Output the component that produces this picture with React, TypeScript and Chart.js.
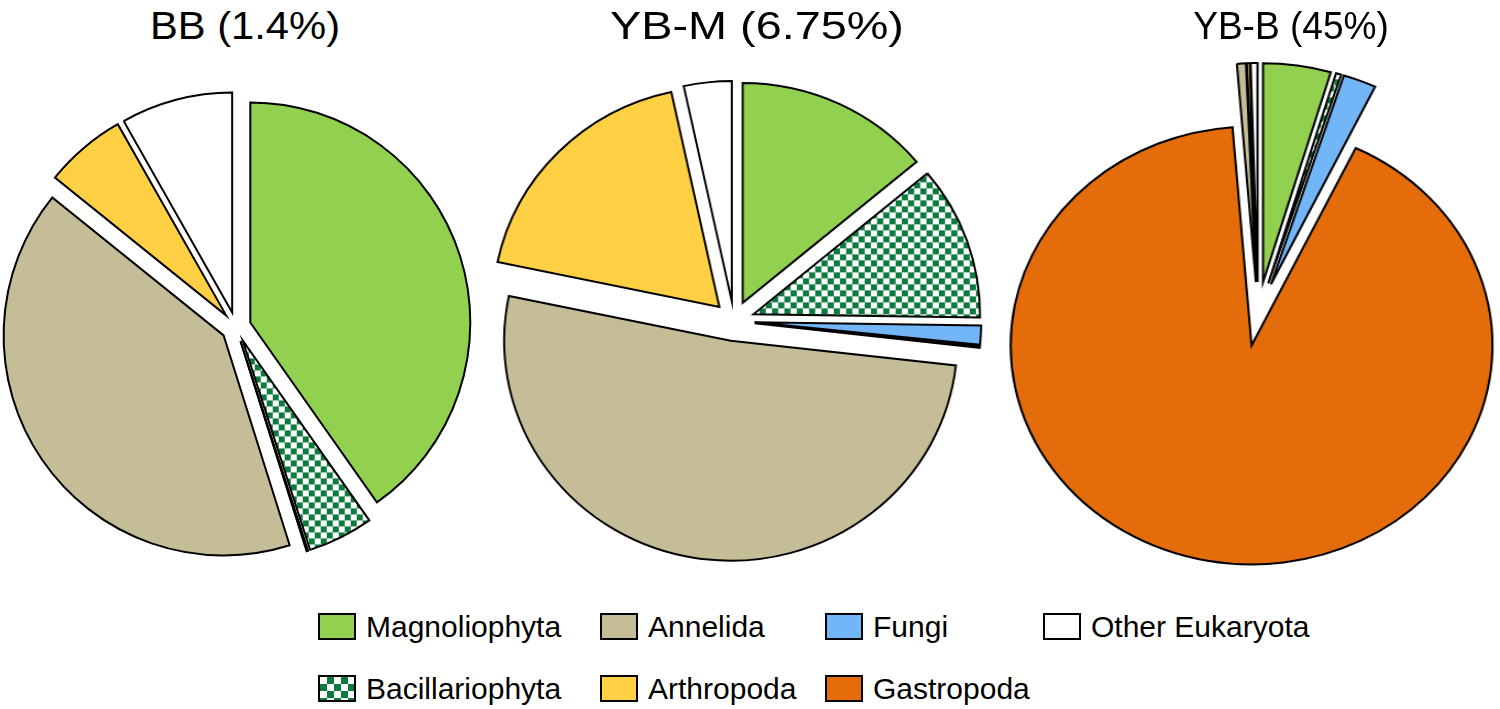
import React, { useEffect, useRef } from "react";
import { Chart, PieController, ArcElement } from "chart.js";

Chart.register(PieController, ArcElement);

// slice order is clockwise from 12 o'clock, same for all three pies
const categories = [
	"Magnoliophyta",
	"Bacillariophyta",
	"Fungi",
	"Gastropoda",
	"Annelida",
	"Arthropoda",
	"Other Eukaryota",
];

// relative abundance (%)
const bbShares = [40.2, 4.8, 0.05, 0.05, 40.6, 6.0, 8.2];
const ybmShares = [13.9, 11.3, 1.4, 0.15, 51.4, 18.3, 3.4];
const ybbShares = [4.5, 0.35, 2.2, 90.8, 0.6, 0.2, 0.45];

const pieTitles = ["BB (1.4%)", "YB-M (6.75%)", "YB-B (45%)"];

const legendRows = [
	["Magnoliophyta", "Annelida", "Fungi", "Other Eukaryota"],
	["Bacillariophyta", "Arthropoda", "Gastropoda"],
];

const sliceColors: Record<string, string> = {
	Magnoliophyta: "#92D050",
	Bacillariophyta: "#0B7B3E", // checker, drawn as a pattern
	Fungi: "#72B6F8",
	Gastropoda: "#E46C0A",
	Annelida: "#C4BD97",
	Arthropoda: "#FFD043",
	"Other Eukaryota": "#FFFFFF",
};

const FONT = '"Liberation Sans", Arial, sans-serif';
const BOX = 540;

function checkerPattern(): CanvasPattern | string {
	const tile = document.createElement("canvas");
	tile.width = 12;
	tile.height = 12;
	const g = tile.getContext("2d");
	if (!g) return sliceColors.Bacillariophyta;
	g.fillStyle = "#fff";
	g.fillRect(0, 0, 12, 12);
	g.fillStyle = sliceColors.Bacillariophyta;
	g.fillRect(0, 0, 6, 6);
	g.fillRect(6, 6, 6, 6);
	return g.createPattern(tile, "repeat") ?? sliceColors.Bacillariophyta;
}

// moves every slice out along its mid angle by the same distance (exploded pie)
const explodePlugin = {
	id: "explode",
	afterDatasetUpdate(chart: Chart, args: any, opts: { distance?: number }) {
		const dist = opts.distance || 0;
		args.meta.data.forEach((arc: any) => {
			arc.draw = function (ctx: CanvasRenderingContext2D) {
				const mid = (this.startAngle + this.endAngle) / 2;
				ctx.save();
				ctx.translate(Math.cos(mid) * dist, Math.sin(mid) * dist);
				ArcElement.prototype.draw.call(this, ctx);
				ctx.restore();
			};
		});
	},
};

interface PieProps {
	shares: number[];
	radius: number;
	explode: number;
	cx: number;
	cy: number;
	stretch: number;
}

const ExplodedPie: React.FC<PieProps> = ({ shares, radius, explode, cx, cy, stretch }) => {
	const canvasRef = useRef<HTMLCanvasElement>(null);

	useEffect(() => {
		if (!canvasRef.current) return;
		const pattern = checkerPattern();
		const chart = new Chart(canvasRef.current, {
			type: "pie",
			data: {
				labels: categories,
				datasets: [
					{
						data: shares,
						backgroundColor: categories.map((c) => (c === "Bacillariophyta" ? pattern : sliceColors[c])),
						borderColor: "#000",
						borderWidth: 2,
						borderJoinStyle: "miter",
					},
				],
			},
			options: {
				responsive: false,
				animation: false,
				events: [],
				radius,
				plugins: {
					explode: { distance: explode },
					legend: { display: false },
					tooltip: { enabled: false },
				},
			} as any,
			plugins: [explodePlugin],
		});
		return () => chart.destroy();
	}, [shares, radius, explode]);

	return (
		<div
			style={{
				position: "absolute",
				left: cx - BOX / 2,
				top: cy - BOX / 2,
				width: BOX,
				height: BOX,
				transform: `scaleX(${stretch})`,
			}}
		>
			<canvas ref={canvasRef} width={BOX} height={BOX} />
		</div>
	);
};

// the three panel titles were set at slightly different widths in the figure
const Title: React.FC<{ text: string; center: number; squeeze: number }> = ({ text, center, squeeze }) => (
	<div
		style={{
			position: "absolute",
			left: center - 300,
			top: 6,
			width: 600,
			textAlign: "center",
			fontSize: 39,
			lineHeight: "39px",
			color: "#000",
			transform: `scaleX(${squeeze})`,
		}}
	>
		{text}
	</div>
);

const legendCols = [318, 600, 825, 1043];
const legendTops = [613, 675];

const swatchStyle = (name: string): React.CSSProperties => ({
	width: 34,
	height: 23,
	border: "2px solid #000",
	marginRight: 10,
	flex: "none",
	background:
		name === "Bacillariophyta"
			? `repeating-conic-gradient(${sliceColors.Bacillariophyta} 0 25%, #fff 0 50%) 0 0 / 14px 14px`
			: sliceColors[name],
});

const App: React.FC = () => {
	return (
		<div
			style={{
				position: "absolute",
				left: 0,
				top: 0,
				width: 1500,
				height: 709,
				overflow: "hidden",
				background: "#fff",
				fontFamily: FONT,
			}}
		>
			<ExplodedPie shares={bbShares} radius={220} explode={15} cx={236} cy={327} stretch={1} />
			<ExplodedPie shares={ybmShares} radius={220} explode={20} cx={734} cy={321} stretch={1.03} />
			<ExplodedPie shares={ybbShares} radius={219} explode={32} cx={1258} cy={314} stretch={1.1} />

			<Title text={pieTitles[0]} center={245} squeeze={1.07} />
			<Title text={pieTitles[1]} center={757} squeeze={1.2} />
			<Title text={pieTitles[2]} center={1291} squeeze={0.95} />

			{legendRows.map((row, r) =>
				row.map((name, c) => (
					<div
						key={name}
						style={{
							position: "absolute",
							left: legendCols[c],
							top: legendTops[r],
							height: 27,
							display: "flex",
							alignItems: "center",
							fontSize: 30,
							lineHeight: "30px",
							color: "#000",
							whiteSpace: "nowrap",
						}}
					>
						<span style={swatchStyle(name)} />
						{name}
					</div>
				))
			)}
		</div>
	);
};

export default App;
